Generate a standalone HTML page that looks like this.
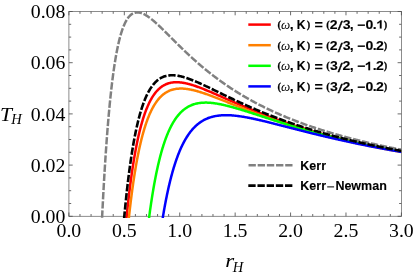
<!DOCTYPE html>
<html><head><meta charset="utf-8"><style>
html,body{margin:0;padding:0;background:#fff;}
svg{display:block}
text{filter:grayscale(1)}
.tk text{font-family:"Liberation Serif",serif;font-size:19.8px;fill:#000}
.lg text{font-family:"Liberation Sans",sans-serif;font-weight:bold;font-size:12px;fill:#000}
.lg text.om{font-family:"Liberation Serif",serif;font-style:italic;font-weight:normal;font-size:13px}
.sb{font-family:"Liberation Sans",sans-serif;font-weight:bold;fill:#000;stroke:#000;stroke-width:0.12px}
.sr{font-family:"Liberation Sans",sans-serif;fill:#000;stroke:#000;stroke-width:0.3px}
.rb{font-family:"Liberation Serif",serif;font-weight:bold;fill:#000;stroke:#000;stroke-width:0.25px}
.ri{font-family:"Liberation Serif",serif;font-style:italic;fill:#000}
.ax{font-family:"Liberation Serif",serif;font-style:italic;fill:#000}
</style></head><body>
<svg width="415" height="273" viewBox="0 0 415 273">
<rect width="415" height="273" fill="#fff"/>
<defs><clipPath id="cp"><rect x="68.9" y="10.5" width="332.5" height="207.5"/></clipPath></defs>
<rect x="68.9" y="11.5" width="332.5" height="204.8" fill="none" stroke="#707070" stroke-width="0.8"/>
<path d="M68.90 216.30 v-3.80 M68.90 11.50 v3.80 M79.98 216.30 v-2.30 M79.98 11.50 v2.30 M91.07 216.30 v-2.30 M91.07 11.50 v2.30 M102.15 216.30 v-2.30 M102.15 11.50 v2.30 M113.23 216.30 v-2.30 M113.23 11.50 v2.30 M124.32 216.30 v-3.80 M124.32 11.50 v3.80 M135.40 216.30 v-2.30 M135.40 11.50 v2.30 M146.48 216.30 v-2.30 M146.48 11.50 v2.30 M157.57 216.30 v-2.30 M157.57 11.50 v2.30 M168.65 216.30 v-2.30 M168.65 11.50 v2.30 M179.73 216.30 v-3.80 M179.73 11.50 v3.80 M190.82 216.30 v-2.30 M190.82 11.50 v2.30 M201.90 216.30 v-2.30 M201.90 11.50 v2.30 M212.98 216.30 v-2.30 M212.98 11.50 v2.30 M224.07 216.30 v-2.30 M224.07 11.50 v2.30 M235.15 216.30 v-3.80 M235.15 11.50 v3.80 M246.23 216.30 v-2.30 M246.23 11.50 v2.30 M257.32 216.30 v-2.30 M257.32 11.50 v2.30 M268.40 216.30 v-2.30 M268.40 11.50 v2.30 M279.48 216.30 v-2.30 M279.48 11.50 v2.30 M290.57 216.30 v-3.80 M290.57 11.50 v3.80 M301.65 216.30 v-2.30 M301.65 11.50 v2.30 M312.73 216.30 v-2.30 M312.73 11.50 v2.30 M323.82 216.30 v-2.30 M323.82 11.50 v2.30 M334.90 216.30 v-2.30 M334.90 11.50 v2.30 M345.98 216.30 v-3.80 M345.98 11.50 v3.80 M357.07 216.30 v-2.30 M357.07 11.50 v2.30 M368.15 216.30 v-2.30 M368.15 11.50 v2.30 M379.23 216.30 v-2.30 M379.23 11.50 v2.30 M390.32 216.30 v-2.30 M390.32 11.50 v2.30 M401.40 216.30 v-3.80 M401.40 11.50 v3.80 M68.90 216.30 h3.80 M401.40 216.30 h-3.80 M68.90 203.50 h2.30 M401.40 203.50 h-2.30 M68.90 190.70 h2.30 M401.40 190.70 h-2.30 M68.90 177.90 h2.30 M401.40 177.90 h-2.30 M68.90 165.10 h3.80 M401.40 165.10 h-3.80 M68.90 152.30 h2.30 M401.40 152.30 h-2.30 M68.90 139.50 h2.30 M401.40 139.50 h-2.30 M68.90 126.70 h2.30 M401.40 126.70 h-2.30 M68.90 113.90 h3.80 M401.40 113.90 h-3.80 M68.90 101.10 h2.30 M401.40 101.10 h-2.30 M68.90 88.30 h2.30 M401.40 88.30 h-2.30 M68.90 75.50 h2.30 M401.40 75.50 h-2.30 M68.90 62.70 h3.80 M401.40 62.70 h-3.80 M68.90 49.90 h2.30 M401.40 49.90 h-2.30 M68.90 37.10 h2.30 M401.40 37.10 h-2.30 M68.90 24.30 h2.30 M401.40 24.30 h-2.30 M68.90 11.50 h3.80 M401.40 11.50 h-3.80" stroke="#505050" stroke-width="0.85" fill="none"/>
<g clip-path="url(#cp)" fill="none" stroke-linejoin="round">
<path d="M126.48 218.09 L126.55 217.35 L126.66 216.26 L126.77 215.19 L126.88 214.12 L126.99 213.06 L127.10 212.01 L127.21 210.97 L127.32 209.93 L127.43 208.91 L127.54 207.89 L127.64 206.87 L127.75 205.87 L127.86 204.87 L127.97 203.88 L128.08 202.90 L128.19 201.92 L128.30 200.96 L128.41 200.00 L128.52 199.04 L128.63 198.10 L128.73 197.16 L128.84 196.22 L128.95 195.30 L129.06 194.38 L129.17 193.47 L129.28 192.56 L129.39 191.66 L129.50 190.77 L129.61 189.89 L129.72 189.01 L129.83 188.14 L129.93 187.27 L130.04 186.41 L130.15 185.56 L130.26 184.71 L130.37 183.87 L130.48 183.04 L130.59 182.21 L130.70 181.39 L130.81 180.58 L130.92 179.77 L131.02 178.96 L131.13 178.17 L131.24 177.37 L131.35 176.59 L131.46 175.81 L131.57 175.03 L131.68 174.27 L131.79 173.50 L131.90 172.75 L132.01 172.00 L132.11 171.25 L132.22 170.51 L132.33 169.78 L132.44 169.05 L132.55 168.32 L132.66 167.60 L132.77 166.89 L132.88 166.18 L132.99 165.48 L133.10 164.78 L133.20 164.09 L133.42 162.72 L133.64 161.37 L133.86 160.04 L134.08 158.73 L134.29 157.44 L134.51 156.17 L134.73 154.92 L134.95 153.69 L135.17 152.47 L135.39 151.28 L135.60 150.10 L135.82 148.93 L136.04 147.79 L136.26 146.66 L136.48 145.55 L136.69 144.46 L136.91 143.38 L137.13 142.32 L137.35 141.27 L137.57 140.24 L137.78 139.22 L138.00 138.22 L138.22 137.24 L138.44 136.27 L138.66 135.31 L138.87 134.37 L139.09 133.44 L139.31 132.52 L139.53 131.62 L139.75 130.74 L139.96 129.86 L140.18 129.00 L140.40 128.16 L140.62 127.32 L140.84 126.50 L141.05 125.69 L141.27 124.89 L141.49 124.11 L141.71 123.33 L141.93 122.57 L142.14 121.82 L142.36 121.08 L142.58 120.35 L142.80 119.64 L143.02 118.93 L143.23 118.23 L143.45 117.55 L143.67 116.88 L143.89 116.21 L144.11 115.56 L144.33 114.92 L144.54 114.28 L144.76 113.66 L144.98 113.04 L145.20 112.44 L145.42 111.85 L145.63 111.26 L145.96 110.40 L146.29 109.56 L146.61 108.73 L146.94 107.93 L147.27 107.15 L147.60 106.38 L147.92 105.64 L148.25 104.91 L148.58 104.19 L148.90 103.50 L149.23 102.82 L149.56 102.16 L149.89 101.51 L150.21 100.88 L150.54 100.27 L150.87 99.67 L151.19 99.09 L151.52 98.52 L151.85 97.96 L152.17 97.42 L152.50 96.89 L152.83 96.38 L153.16 95.88 L153.48 95.39 L153.81 94.91 L154.25 94.30 L154.68 93.70 L155.12 93.13 L155.55 92.58 L155.99 92.04 L156.43 91.53 L156.86 91.04 L157.30 90.56 L157.73 90.10 L158.17 89.66 L158.61 89.24 L159.04 88.83 L159.48 88.44 L159.92 88.06 L160.46 87.61 L161.01 87.19 L161.55 86.78 L162.10 86.40 L162.64 86.04 L163.19 85.70 L163.73 85.38 L164.28 85.08 L164.82 84.79 L165.37 84.53 L166.02 84.23 L166.67 83.96 L167.33 83.71 L167.98 83.48 L168.64 83.28 L169.29 83.09 L169.95 82.93 L170.60 82.78 L171.36 82.63 L172.13 82.51 L172.89 82.40 L173.65 82.32 L174.42 82.26 L175.18 82.23 L176.05 82.20 L176.92 82.21 L177.79 82.23 L178.56 82.27 L179.32 82.32 L180.08 82.39 L180.85 82.47 L181.61 82.57 L182.37 82.68 L183.14 82.80 L183.90 82.93 L184.66 83.08 L185.43 83.23 L186.19 83.40 L186.84 83.55 L187.50 83.71 L188.15 83.87 L188.81 84.04 L189.46 84.22 L190.11 84.40 L190.77 84.58 L191.42 84.78 L192.08 84.97 L192.73 85.18 L193.39 85.39 L194.04 85.60 L194.69 85.81 L195.35 86.03 L196.00 86.26 L196.66 86.49 L197.31 86.72 L197.96 86.95 L198.62 87.19 L199.27 87.44 L199.93 87.68 L200.58 87.93 L201.23 88.18 L201.89 88.43 L202.54 88.69 L203.20 88.95 L203.85 89.21 L204.51 89.47 L205.16 89.73 L205.81 90.00 L206.47 90.27 L207.12 90.54 L207.78 90.81 L208.43 91.08 L209.08 91.36 L209.74 91.64 L210.39 91.91 L211.05 92.19 L211.70 92.47 L212.36 92.75 L213.01 93.03 L213.66 93.32 L214.32 93.60 L214.97 93.88 L215.63 94.17 L216.28 94.45 L216.93 94.74 L217.59 95.03 L218.24 95.31 L218.90 95.60 L219.55 95.89 L220.20 96.18 L220.86 96.47 L221.51 96.75 L222.17 97.04 L222.82 97.33 L223.48 97.62 L224.13 97.91 L224.78 98.20 L225.44 98.49 L226.09 98.78 L226.75 99.07 L227.40 99.35 L228.05 99.64 L228.71 99.93 L229.36 100.22 L230.02 100.51 L230.67 100.80 L231.32 101.08 L231.98 101.37 L232.63 101.66 L233.29 101.94 L233.94 102.23 L234.60 102.51 L235.25 102.80 L235.90 103.08 L236.56 103.37 L237.21 103.65 L237.87 103.94 L238.52 104.22 L239.17 104.50 L239.83 104.78 L240.48 105.06 L241.14 105.34 L241.79 105.62 L242.45 105.90 L243.10 106.18 L243.75 106.46 L244.41 106.73 L245.06 107.01 L245.72 107.29 L246.37 107.56 L247.02 107.83 L247.68 108.11 L248.33 108.38 L248.99 108.65 L249.64 108.92 L250.29 109.19 L250.95 109.46 L251.60 109.73 L252.26 110.00 L252.91 110.27 L253.57 110.53 L254.22 110.80 L254.87 111.07 L255.53 111.33 L256.18 111.59 L256.84 111.86 L257.49 112.12 L258.14 112.38 L258.80 112.64 L259.45 112.90 L260.11 113.15 L260.76 113.41 L261.42 113.67 L262.07 113.92 L262.72 114.18 L263.38 114.43 L264.03 114.69 L264.69 114.94 L265.34 115.19 L265.99 115.44 L266.65 115.69 L267.30 115.94 L267.96 116.19 L268.61 116.43 L269.26 116.68 L269.92 116.93 L270.57 117.17 L271.23 117.41 L271.88 117.66 L272.54 117.90 L273.19 118.14 L273.84 118.38 L274.50 118.62 L275.15 118.86 L275.81 119.10 L276.46 119.33 L277.11 119.57 L277.77 119.80 L278.42 120.04 L279.08 120.27 L279.73 120.50 L280.39 120.73 L281.04 120.96 L281.69 121.19 L282.35 121.42 L283.00 121.65 L283.66 121.88 L284.31 122.10 L284.96 122.33 L285.62 122.55 L286.27 122.78 L286.93 123.00 L287.58 123.22 L288.23 123.44 L288.89 123.66 L289.54 123.88 L290.20 124.10 L290.85 124.32 L291.51 124.54 L292.16 124.75 L292.81 124.97 L293.47 125.18 L294.12 125.40 L294.78 125.61 L295.43 125.82 L296.08 126.03 L296.74 126.24 L297.39 126.45 L298.05 126.66 L298.70 126.87 L299.35 127.08 L300.01 127.28 L300.66 127.49 L301.32 127.70 L301.97 127.90 L302.63 128.10 L303.28 128.31 L303.93 128.51 L304.59 128.71 L305.24 128.91 L305.90 129.11 L306.55 129.31 L307.20 129.50 L307.86 129.70 L308.51 129.90 L309.17 130.09 L309.82 130.29 L310.48 130.48 L311.13 130.68 L311.78 130.87 L312.44 131.06 L313.09 131.25 L313.75 131.44 L314.40 131.63 L315.05 131.82 L315.71 132.01 L316.36 132.20 L317.02 132.38 L317.67 132.57 L318.32 132.75 L318.98 132.94 L319.63 133.12 L320.29 133.30 L320.94 133.49 L321.60 133.67 L322.25 133.85 L322.90 134.03 L323.56 134.21 L324.21 134.39 L324.87 134.57 L325.52 134.74 L326.17 134.92 L326.83 135.10 L327.48 135.27 L328.14 135.45 L328.79 135.62 L329.45 135.80 L330.10 135.97 L330.75 136.14 L331.41 136.31 L332.06 136.48 L332.72 136.65 L333.37 136.82 L334.02 136.99 L334.68 137.16 L335.33 137.33 L335.99 137.50 L336.64 137.66 L337.29 137.83 L337.95 137.99 L338.60 138.16 L339.26 138.32 L339.91 138.48 L340.57 138.65 L341.22 138.81 L341.87 138.97 L342.53 139.13 L343.18 139.29 L343.84 139.45 L344.49 139.61 L345.14 139.77 L345.80 139.93 L346.45 140.08 L347.11 140.24 L347.76 140.40 L348.42 140.55 L349.07 140.71 L349.72 140.86 L350.38 141.02 L351.03 141.17 L351.69 141.32 L352.34 141.47 L352.99 141.63 L353.65 141.78 L354.30 141.93 L354.96 142.08 L355.61 142.23 L356.26 142.38 L356.92 142.52 L357.57 142.67 L358.23 142.82 L358.88 142.96 L359.54 143.11 L360.30 143.28 L361.06 143.45 L361.82 143.62 L362.59 143.79 L363.35 143.95 L364.11 144.12 L364.88 144.28 L365.64 144.45 L366.40 144.61 L367.17 144.78 L367.93 144.94 L368.69 145.10 L369.46 145.26 L370.22 145.42 L370.98 145.58 L371.75 145.74 L372.51 145.90 L373.27 146.06 L374.04 146.22 L374.80 146.37 L375.56 146.53 L376.32 146.68 L377.09 146.84 L377.85 146.99 L378.61 147.15 L379.38 147.30 L380.14 147.45 L380.90 147.60 L381.67 147.75 L382.43 147.90 L383.19 148.05 L383.96 148.20 L384.72 148.35 L385.48 148.50 L386.25 148.65 L387.01 148.79 L387.77 148.94 L388.54 149.09 L389.30 149.23 L390.06 149.37 L390.82 149.52 L391.59 149.66 L392.35 149.80 L393.11 149.95 L393.88 150.09 L394.64 150.23 L395.40 150.37 L396.17 150.51 L396.93 150.65 L397.69 150.79 L398.46 150.92 L399.22 151.06 L399.98 151.20 L400.75 151.34 L401.40 151.45" stroke="#ff0000" stroke-width="2.5"/>
<path d="M128.84 218.09 L128.95 217.01 L129.06 216.02 L129.17 215.04 L129.28 214.06 L129.39 213.09 L129.50 212.12 L129.61 211.17 L129.72 210.22 L129.83 209.28 L129.93 208.34 L130.04 207.41 L130.15 206.49 L130.26 205.57 L130.37 204.66 L130.48 203.76 L130.59 202.86 L130.70 201.97 L130.81 201.09 L130.92 200.21 L131.02 199.34 L131.13 198.47 L131.24 197.62 L131.35 196.76 L131.46 195.92 L131.57 195.08 L131.68 194.24 L131.79 193.42 L131.90 192.59 L132.01 191.78 L132.11 190.97 L132.22 190.16 L132.33 189.36 L132.44 188.57 L132.55 187.78 L132.66 187.00 L132.77 186.22 L132.88 185.45 L132.99 184.69 L133.10 183.93 L133.20 183.17 L133.31 182.43 L133.42 181.68 L133.53 180.94 L133.64 180.21 L133.75 179.48 L133.86 178.76 L133.97 178.04 L134.08 177.33 L134.19 176.63 L134.29 175.92 L134.40 175.23 L134.51 174.53 L134.73 173.17 L134.95 171.82 L135.17 170.49 L135.39 169.17 L135.60 167.88 L135.82 166.61 L136.04 165.35 L136.26 164.11 L136.48 162.89 L136.69 161.69 L136.91 160.51 L137.13 159.34 L137.35 158.18 L137.57 157.05 L137.78 155.93 L138.00 154.83 L138.22 153.74 L138.44 152.67 L138.66 151.61 L138.87 150.57 L139.09 149.54 L139.31 148.53 L139.53 147.53 L139.75 146.55 L139.96 145.58 L140.18 144.62 L140.40 143.68 L140.62 142.75 L140.84 141.84 L141.05 140.94 L141.27 140.05 L141.49 139.17 L141.71 138.31 L141.93 137.46 L142.14 136.62 L142.36 135.79 L142.58 134.98 L142.80 134.18 L143.02 133.39 L143.23 132.61 L143.45 131.84 L143.67 131.08 L143.89 130.33 L144.11 129.60 L144.33 128.87 L144.54 128.16 L144.76 127.46 L144.98 126.76 L145.20 126.08 L145.42 125.41 L145.63 124.74 L145.85 124.09 L146.07 123.44 L146.29 122.81 L146.51 122.18 L146.72 121.57 L146.94 120.96 L147.16 120.36 L147.38 119.77 L147.70 118.91 L148.03 118.06 L148.36 117.23 L148.69 116.42 L149.01 115.63 L149.34 114.85 L149.67 114.09 L149.99 113.35 L150.32 112.63 L150.65 111.92 L150.98 111.23 L151.30 110.56 L151.63 109.90 L151.96 109.25 L152.28 108.62 L152.61 108.01 L152.94 107.41 L153.26 106.82 L153.59 106.25 L153.92 105.69 L154.25 105.14 L154.57 104.61 L154.90 104.09 L155.23 103.58 L155.55 103.09 L155.88 102.60 L156.32 101.98 L156.75 101.37 L157.19 100.79 L157.63 100.22 L158.06 99.67 L158.50 99.14 L158.93 98.63 L159.37 98.14 L159.81 97.66 L160.24 97.20 L160.68 96.76 L161.11 96.33 L161.55 95.92 L161.99 95.52 L162.42 95.14 L162.86 94.77 L163.40 94.33 L163.95 93.91 L164.49 93.52 L165.04 93.14 L165.58 92.78 L166.13 92.44 L166.67 92.11 L167.22 91.81 L167.76 91.52 L168.31 91.25 L168.86 90.99 L169.51 90.71 L170.16 90.44 L170.82 90.20 L171.47 89.97 L172.13 89.77 L172.78 89.58 L173.43 89.41 L174.09 89.26 L174.85 89.11 L175.61 88.97 L176.38 88.86 L177.14 88.77 L177.90 88.69 L178.67 88.64 L179.43 88.60 L180.30 88.57 L181.17 88.57 L182.05 88.59 L182.92 88.62 L183.68 88.67 L184.45 88.73 L185.21 88.80 L185.97 88.88 L186.73 88.98 L187.50 89.08 L188.26 89.20 L189.02 89.32 L189.79 89.46 L190.55 89.61 L191.31 89.76 L192.08 89.92 L192.84 90.09 L193.49 90.24 L194.15 90.40 L194.80 90.56 L195.46 90.73 L196.11 90.91 L196.76 91.08 L197.42 91.26 L198.07 91.45 L198.73 91.64 L199.38 91.83 L200.04 92.03 L200.69 92.23 L201.34 92.44 L202.00 92.64 L202.65 92.86 L203.31 93.07 L203.96 93.29 L204.61 93.51 L205.27 93.73 L205.92 93.95 L206.58 94.18 L207.23 94.41 L207.89 94.64 L208.54 94.88 L209.19 95.11 L209.85 95.35 L210.50 95.59 L211.16 95.83 L211.81 96.08 L212.46 96.32 L213.12 96.57 L213.77 96.82 L214.43 97.06 L215.08 97.31 L215.73 97.57 L216.39 97.82 L217.04 98.07 L217.70 98.33 L218.35 98.58 L219.01 98.84 L219.66 99.10 L220.31 99.35 L220.97 99.61 L221.62 99.87 L222.28 100.13 L222.93 100.39 L223.58 100.65 L224.24 100.91 L224.89 101.17 L225.55 101.43 L226.20 101.70 L226.86 101.96 L227.51 102.22 L228.16 102.48 L228.82 102.75 L229.47 103.01 L230.13 103.27 L230.78 103.54 L231.43 103.80 L232.09 104.06 L232.74 104.32 L233.40 104.59 L234.05 104.85 L234.70 105.11 L235.36 105.38 L236.01 105.64 L236.67 105.90 L237.32 106.16 L237.98 106.42 L238.63 106.68 L239.28 106.94 L239.94 107.21 L240.59 107.47 L241.25 107.73 L241.90 107.99 L242.55 108.24 L243.21 108.50 L243.86 108.76 L244.52 109.02 L245.17 109.28 L245.82 109.53 L246.48 109.79 L247.13 110.05 L247.79 110.30 L248.44 110.56 L249.10 110.81 L249.75 111.06 L250.40 111.32 L251.06 111.57 L251.71 111.82 L252.37 112.07 L253.02 112.32 L253.67 112.57 L254.33 112.82 L254.98 113.07 L255.64 113.32 L256.29 113.57 L256.95 113.82 L257.60 114.06 L258.25 114.31 L258.91 114.55 L259.56 114.80 L260.22 115.04 L260.87 115.29 L261.52 115.53 L262.18 115.77 L262.83 116.01 L263.49 116.25 L264.14 116.49 L264.79 116.73 L265.45 116.97 L266.10 117.20 L266.76 117.44 L267.41 117.68 L268.07 117.91 L268.72 118.15 L269.37 118.38 L270.03 118.61 L270.68 118.84 L271.34 119.08 L271.99 119.31 L272.64 119.54 L273.30 119.77 L273.95 119.99 L274.61 120.22 L275.26 120.45 L275.92 120.68 L276.57 120.90 L277.22 121.13 L277.88 121.35 L278.53 121.57 L279.19 121.80 L279.84 122.02 L280.49 122.24 L281.15 122.46 L281.80 122.68 L282.46 122.90 L283.11 123.11 L283.76 123.33 L284.42 123.55 L285.07 123.76 L285.73 123.98 L286.38 124.19 L287.04 124.41 L287.69 124.62 L288.34 124.83 L289.00 125.04 L289.65 125.25 L290.31 125.46 L290.96 125.67 L291.61 125.88 L292.27 126.08 L292.92 126.29 L293.58 126.50 L294.23 126.70 L294.89 126.91 L295.54 127.11 L296.19 127.31 L296.85 127.52 L297.50 127.72 L298.16 127.92 L298.81 128.12 L299.46 128.32 L300.12 128.52 L300.77 128.71 L301.43 128.91 L302.08 129.11 L302.73 129.30 L303.39 129.50 L304.04 129.69 L304.70 129.89 L305.35 130.08 L306.01 130.27 L306.66 130.46 L307.31 130.65 L307.97 130.84 L308.62 131.03 L309.28 131.22 L309.93 131.41 L310.58 131.59 L311.24 131.78 L311.89 131.97 L312.55 132.15 L313.20 132.34 L313.85 132.52 L314.51 132.70 L315.16 132.89 L315.82 133.07 L316.47 133.25 L317.13 133.43 L317.78 133.61 L318.43 133.79 L319.09 133.97 L319.74 134.14 L320.40 134.32 L321.05 134.50 L321.70 134.67 L322.36 134.85 L323.01 135.02 L323.67 135.20 L324.32 135.37 L324.98 135.54 L325.63 135.71 L326.28 135.89 L326.94 136.06 L327.59 136.23 L328.25 136.40 L328.90 136.57 L329.55 136.73 L330.21 136.90 L330.86 137.07 L331.52 137.23 L332.17 137.40 L332.82 137.56 L333.48 137.73 L334.13 137.89 L334.79 138.06 L335.44 138.22 L336.10 138.38 L336.75 138.54 L337.40 138.70 L338.06 138.86 L338.71 139.02 L339.37 139.18 L340.02 139.34 L340.67 139.50 L341.33 139.66 L341.98 139.81 L342.64 139.97 L343.29 140.13 L343.95 140.28 L344.60 140.44 L345.25 140.59 L345.91 140.74 L346.56 140.90 L347.22 141.05 L347.87 141.20 L348.52 141.35 L349.18 141.50 L349.83 141.65 L350.49 141.80 L351.14 141.95 L351.79 142.10 L352.45 142.25 L353.10 142.40 L353.76 142.54 L354.41 142.69 L355.07 142.83 L355.83 143.00 L356.59 143.17 L357.35 143.34 L358.12 143.51 L358.88 143.68 L359.64 143.84 L360.41 144.01 L361.17 144.17 L361.93 144.34 L362.70 144.50 L363.46 144.66 L364.22 144.82 L364.99 144.98 L365.75 145.15 L366.51 145.31 L367.28 145.46 L368.04 145.62 L368.80 145.78 L369.57 145.94 L370.33 146.10 L371.09 146.25 L371.85 146.41 L372.62 146.56 L373.38 146.72 L374.14 146.87 L374.91 147.02 L375.67 147.18 L376.43 147.33 L377.20 147.48 L377.96 147.63 L378.72 147.78 L379.49 147.93 L380.25 148.08 L381.01 148.22 L381.78 148.37 L382.54 148.52 L383.30 148.66 L384.07 148.81 L384.83 148.96 L385.59 149.10 L386.35 149.24 L387.12 149.39 L387.88 149.53 L388.64 149.67 L389.41 149.81 L390.17 149.96 L390.93 150.10 L391.70 150.24 L392.46 150.38 L393.22 150.51 L393.99 150.65 L394.75 150.79 L395.51 150.93 L396.28 151.07 L397.04 151.20 L397.80 151.34 L398.57 151.47 L399.33 151.61 L400.09 151.74 L400.85 151.87 L401.40 151.97" stroke="#ff8000" stroke-width="2.5"/>
<path d="M149.03 218.09 L149.23 216.58 L149.34 215.76 L149.45 214.95 L149.56 214.14 L149.67 213.33 L149.78 212.53 L149.89 211.74 L149.99 210.95 L150.10 210.17 L150.21 209.39 L150.32 208.62 L150.43 207.86 L150.54 207.10 L150.65 206.34 L150.76 205.59 L150.87 204.84 L150.98 204.10 L151.08 203.37 L151.19 202.63 L151.30 201.91 L151.41 201.19 L151.52 200.47 L151.63 199.76 L151.74 199.05 L151.85 198.35 L151.96 197.66 L152.07 196.96 L152.28 195.59 L152.50 194.24 L152.72 192.91 L152.94 191.59 L153.16 190.29 L153.37 189.01 L153.59 187.75 L153.81 186.50 L154.03 185.27 L154.25 184.06 L154.46 182.86 L154.68 181.68 L154.90 180.51 L155.12 179.36 L155.34 178.23 L155.55 177.11 L155.77 176.01 L155.99 174.92 L156.21 173.84 L156.43 172.78 L156.64 171.74 L156.86 170.70 L157.08 169.68 L157.30 168.68 L157.52 167.69 L157.73 166.71 L157.95 165.74 L158.17 164.79 L158.39 163.85 L158.61 162.93 L158.83 162.01 L159.04 161.11 L159.26 160.22 L159.48 159.34 L159.70 158.47 L159.92 157.62 L160.13 156.77 L160.35 155.94 L160.57 155.12 L160.79 154.31 L161.01 153.51 L161.22 152.72 L161.44 151.94 L161.66 151.18 L161.88 150.42 L162.10 149.67 L162.31 148.93 L162.53 148.21 L162.75 147.49 L162.97 146.78 L163.19 146.08 L163.40 145.39 L163.62 144.71 L163.84 144.04 L164.06 143.38 L164.28 142.73 L164.49 142.08 L164.71 141.45 L164.93 140.82 L165.15 140.20 L165.37 139.59 L165.58 138.99 L165.80 138.40 L166.02 137.81 L166.35 136.95 L166.67 136.10 L167.00 135.27 L167.33 134.46 L167.66 133.67 L167.98 132.89 L168.31 132.12 L168.64 131.38 L168.96 130.64 L169.29 129.93 L169.62 129.22 L169.95 128.54 L170.27 127.86 L170.60 127.20 L170.93 126.56 L171.25 125.93 L171.58 125.31 L171.91 124.70 L172.23 124.11 L172.56 123.52 L172.89 122.96 L173.22 122.40 L173.54 121.85 L173.87 121.32 L174.20 120.80 L174.52 120.29 L174.85 119.79 L175.18 119.30 L175.51 118.82 L175.94 118.20 L176.38 117.59 L176.81 117.01 L177.25 116.44 L177.69 115.89 L178.12 115.35 L178.56 114.83 L178.99 114.33 L179.43 113.84 L179.87 113.36 L180.30 112.90 L180.74 112.46 L181.17 112.03 L181.61 111.61 L182.05 111.20 L182.48 110.81 L182.92 110.43 L183.36 110.07 L183.90 109.62 L184.45 109.20 L184.99 108.79 L185.54 108.41 L186.08 108.03 L186.63 107.68 L187.17 107.34 L187.72 107.01 L188.26 106.71 L188.81 106.41 L189.35 106.13 L189.90 105.86 L190.55 105.56 L191.20 105.27 L191.86 105.01 L192.51 104.76 L193.17 104.52 L193.82 104.31 L194.48 104.10 L195.13 103.92 L195.78 103.74 L196.44 103.59 L197.20 103.42 L197.96 103.27 L198.73 103.14 L199.49 103.02 L200.25 102.92 L201.02 102.83 L201.78 102.76 L202.54 102.71 L203.31 102.66 L204.18 102.63 L205.05 102.61 L205.92 102.61 L206.79 102.62 L207.67 102.64 L208.54 102.68 L209.30 102.73 L210.07 102.78 L210.83 102.85 L211.59 102.92 L212.36 103.00 L213.12 103.09 L213.88 103.18 L214.64 103.29 L215.41 103.40 L216.17 103.51 L216.93 103.64 L217.70 103.77 L218.46 103.90 L219.22 104.04 L219.99 104.19 L220.75 104.34 L221.51 104.50 L222.28 104.66 L223.04 104.83 L223.69 104.98 L224.35 105.13 L225.00 105.28 L225.66 105.43 L226.31 105.59 L226.96 105.75 L227.62 105.92 L228.27 106.08 L228.93 106.25 L229.58 106.42 L230.23 106.60 L230.89 106.77 L231.54 106.95 L232.20 107.13 L232.85 107.31 L233.51 107.49 L234.16 107.68 L234.81 107.86 L235.47 108.05 L236.12 108.24 L236.78 108.43 L237.43 108.62 L238.08 108.82 L238.74 109.01 L239.39 109.21 L240.05 109.41 L240.70 109.60 L241.36 109.80 L242.01 110.00 L242.66 110.20 L243.32 110.41 L243.97 110.61 L244.63 110.81 L245.28 111.02 L245.93 111.22 L246.59 111.43 L247.24 111.64 L247.90 111.84 L248.55 112.05 L249.20 112.26 L249.86 112.47 L250.51 112.68 L251.17 112.89 L251.82 113.10 L252.48 113.31 L253.13 113.52 L253.78 113.73 L254.44 113.94 L255.09 114.15 L255.75 114.36 L256.40 114.57 L257.05 114.78 L257.71 115.00 L258.36 115.21 L259.02 115.42 L259.67 115.63 L260.32 115.84 L260.98 116.06 L261.63 116.27 L262.29 116.48 L262.94 116.69 L263.60 116.90 L264.25 117.12 L264.90 117.33 L265.56 117.54 L266.21 117.75 L266.87 117.96 L267.52 118.17 L268.17 118.38 L268.83 118.59 L269.48 118.80 L270.14 119.01 L270.79 119.22 L271.45 119.43 L272.10 119.64 L272.75 119.85 L273.41 120.06 L274.06 120.27 L274.72 120.48 L275.37 120.68 L276.02 120.89 L276.68 121.10 L277.33 121.31 L277.99 121.51 L278.64 121.72 L279.29 121.92 L279.95 122.13 L280.60 122.33 L281.26 122.54 L281.91 122.74 L282.57 122.95 L283.22 123.15 L283.87 123.35 L284.53 123.55 L285.18 123.76 L285.84 123.96 L286.49 124.16 L287.14 124.36 L287.80 124.56 L288.45 124.76 L289.11 124.96 L289.76 125.15 L290.42 125.35 L291.07 125.55 L291.72 125.75 L292.38 125.94 L293.03 126.14 L293.69 126.34 L294.34 126.53 L294.99 126.73 L295.65 126.92 L296.30 127.11 L296.96 127.31 L297.61 127.50 L298.26 127.69 L298.92 127.88 L299.57 128.07 L300.23 128.26 L300.88 128.45 L301.54 128.64 L302.19 128.83 L302.84 129.02 L303.50 129.21 L304.15 129.39 L304.81 129.58 L305.46 129.76 L306.11 129.95 L306.77 130.13 L307.42 130.32 L308.08 130.50 L308.73 130.69 L309.39 130.87 L310.04 131.05 L310.69 131.23 L311.35 131.41 L312.00 131.59 L312.66 131.77 L313.31 131.95 L313.96 132.13 L314.62 132.31 L315.27 132.49 L315.93 132.66 L316.58 132.84 L317.23 133.02 L317.89 133.19 L318.54 133.37 L319.20 133.54 L319.85 133.71 L320.51 133.89 L321.16 134.06 L321.81 134.23 L322.47 134.40 L323.12 134.57 L323.78 134.75 L324.43 134.92 L325.08 135.08 L325.74 135.25 L326.39 135.42 L327.05 135.59 L327.70 135.76 L328.35 135.92 L329.01 136.09 L329.66 136.25 L330.32 136.42 L330.97 136.58 L331.63 136.75 L332.28 136.91 L332.93 137.07 L333.59 137.24 L334.24 137.40 L334.90 137.56 L335.55 137.72 L336.20 137.88 L336.86 138.04 L337.51 138.20 L338.17 138.36 L338.82 138.51 L339.48 138.67 L340.13 138.83 L340.78 138.99 L341.44 139.14 L342.09 139.30 L342.75 139.45 L343.40 139.61 L344.05 139.76 L344.71 139.91 L345.36 140.07 L346.02 140.22 L346.67 140.37 L347.32 140.52 L347.98 140.67 L348.63 140.82 L349.29 140.97 L349.94 141.12 L350.60 141.27 L351.25 141.42 L351.90 141.57 L352.56 141.71 L353.21 141.86 L353.87 142.01 L354.63 142.18 L355.39 142.35 L356.16 142.52 L356.92 142.68 L357.68 142.85 L358.45 143.02 L359.21 143.18 L359.97 143.35 L360.73 143.51 L361.50 143.68 L362.26 143.84 L363.02 144.00 L363.79 144.17 L364.55 144.33 L365.31 144.49 L366.08 144.65 L366.84 144.81 L367.60 144.97 L368.37 145.13 L369.13 145.28 L369.89 145.44 L370.66 145.60 L371.42 145.75 L372.18 145.91 L372.95 146.07 L373.71 146.22 L374.47 146.37 L375.23 146.53 L376.00 146.68 L376.76 146.83 L377.52 146.98 L378.29 147.13 L379.05 147.28 L379.81 147.43 L380.58 147.58 L381.34 147.73 L382.10 147.88 L382.87 148.02 L383.63 148.17 L384.39 148.32 L385.16 148.46 L385.92 148.61 L386.68 148.75 L387.45 148.90 L388.21 149.04 L388.97 149.18 L389.73 149.32 L390.50 149.47 L391.26 149.61 L392.02 149.75 L392.79 149.89 L393.55 150.03 L394.31 150.17 L395.08 150.30 L395.84 150.44 L396.60 150.58 L397.37 150.72 L398.13 150.85 L398.89 150.99 L399.66 151.12 L400.42 151.26 L401.18 151.39 L401.40 151.43" stroke="#00ff00" stroke-width="2.5"/>
<path d="M162.72 218.09 L162.86 217.24 L163.08 215.92 L163.29 214.63 L163.51 213.34 L163.73 212.08 L163.95 210.82 L164.17 209.59 L164.39 208.37 L164.60 207.16 L164.82 205.97 L165.04 204.79 L165.26 203.63 L165.48 202.48 L165.69 201.34 L165.91 200.22 L166.13 199.11 L166.35 198.02 L166.57 196.94 L166.78 195.87 L167.00 194.81 L167.22 193.77 L167.44 192.74 L167.66 191.72 L167.87 190.72 L168.09 189.73 L168.31 188.74 L168.53 187.77 L168.75 186.82 L168.96 185.87 L169.18 184.94 L169.40 184.01 L169.62 183.10 L169.84 182.20 L170.05 181.31 L170.27 180.43 L170.49 179.56 L170.71 178.70 L170.93 177.85 L171.14 177.01 L171.36 176.18 L171.58 175.36 L171.80 174.56 L172.02 173.76 L172.23 172.97 L172.45 172.19 L172.67 171.42 L172.89 170.66 L173.11 169.90 L173.33 169.16 L173.54 168.43 L173.76 167.70 L173.98 166.98 L174.20 166.28 L174.42 165.58 L174.63 164.88 L174.85 164.20 L175.07 163.53 L175.29 162.86 L175.51 162.20 L175.72 161.55 L175.94 160.91 L176.16 160.27 L176.38 159.64 L176.60 159.02 L176.81 158.41 L177.03 157.81 L177.25 157.21 L177.47 156.62 L177.69 156.03 L178.01 155.17 L178.34 154.33 L178.67 153.49 L178.99 152.68 L179.32 151.88 L179.65 151.09 L179.98 150.32 L180.30 149.56 L180.63 148.81 L180.96 148.08 L181.28 147.36 L181.61 146.65 L181.94 145.96 L182.26 145.28 L182.59 144.61 L182.92 143.96 L183.25 143.32 L183.57 142.68 L183.90 142.06 L184.23 141.46 L184.55 140.86 L184.88 140.27 L185.21 139.70 L185.54 139.13 L185.86 138.58 L186.19 138.03 L186.52 137.50 L186.84 136.97 L187.17 136.46 L187.50 135.95 L187.83 135.46 L188.15 134.97 L188.48 134.50 L188.92 133.87 L189.35 133.27 L189.79 132.68 L190.22 132.10 L190.66 131.54 L191.10 130.99 L191.53 130.46 L191.97 129.94 L192.40 129.44 L192.84 128.94 L193.28 128.46 L193.71 128.00 L194.15 127.54 L194.58 127.10 L195.02 126.67 L195.46 126.25 L195.89 125.84 L196.33 125.44 L196.76 125.06 L197.20 124.68 L197.64 124.32 L198.18 123.87 L198.73 123.45 L199.27 123.03 L199.82 122.64 L200.36 122.25 L200.91 121.88 L201.45 121.53 L202.00 121.19 L202.54 120.86 L203.09 120.54 L203.63 120.23 L204.18 119.94 L204.72 119.66 L205.27 119.39 L205.81 119.13 L206.47 118.83 L207.12 118.55 L207.78 118.28 L208.43 118.03 L209.08 117.79 L209.74 117.56 L210.39 117.35 L211.05 117.14 L211.70 116.95 L212.36 116.78 L213.01 116.61 L213.66 116.45 L214.43 116.28 L215.19 116.13 L215.95 115.99 L216.72 115.86 L217.48 115.74 L218.24 115.64 L219.01 115.55 L219.77 115.47 L220.53 115.40 L221.29 115.34 L222.06 115.29 L222.82 115.25 L223.69 115.21 L224.57 115.19 L225.44 115.18 L226.31 115.18 L227.18 115.19 L228.05 115.21 L228.93 115.24 L229.80 115.28 L230.56 115.32 L231.32 115.37 L232.09 115.42 L232.85 115.48 L233.61 115.55 L234.38 115.62 L235.14 115.70 L235.90 115.78 L236.67 115.87 L237.43 115.96 L238.19 116.06 L238.96 116.16 L239.72 116.26 L240.48 116.37 L241.25 116.49 L242.01 116.61 L242.77 116.73 L243.54 116.85 L244.30 116.98 L245.06 117.11 L245.82 117.25 L246.59 117.39 L247.35 117.53 L248.11 117.67 L248.88 117.82 L249.64 117.97 L250.40 118.12 L251.17 118.28 L251.93 118.43 L252.69 118.59 L253.46 118.75 L254.22 118.92 L254.98 119.08 L255.75 119.25 L256.51 119.42 L257.16 119.57 L257.82 119.71 L258.47 119.86 L259.13 120.01 L259.78 120.16 L260.43 120.31 L261.09 120.47 L261.74 120.62 L262.40 120.78 L263.05 120.93 L263.70 121.09 L264.36 121.24 L265.01 121.40 L265.67 121.56 L266.32 121.72 L266.98 121.88 L267.63 122.04 L268.28 122.20 L268.94 122.36 L269.59 122.53 L270.25 122.69 L270.90 122.85 L271.55 123.02 L272.21 123.18 L272.86 123.35 L273.52 123.51 L274.17 123.68 L274.82 123.84 L275.48 124.01 L276.13 124.18 L276.79 124.34 L277.44 124.51 L278.10 124.68 L278.75 124.85 L279.40 125.01 L280.06 125.18 L280.71 125.35 L281.37 125.52 L282.02 125.69 L282.67 125.85 L283.33 126.02 L283.98 126.19 L284.64 126.36 L285.29 126.53 L285.95 126.70 L286.60 126.87 L287.25 127.03 L287.91 127.20 L288.56 127.37 L289.22 127.54 L289.87 127.71 L290.52 127.88 L291.18 128.05 L291.83 128.22 L292.49 128.38 L293.14 128.55 L293.79 128.72 L294.45 128.89 L295.10 129.06 L295.76 129.22 L296.41 129.39 L297.07 129.56 L297.72 129.73 L298.37 129.89 L299.03 130.06 L299.68 130.23 L300.34 130.39 L300.99 130.56 L301.64 130.73 L302.30 130.89 L302.95 131.06 L303.61 131.22 L304.26 131.39 L304.92 131.55 L305.57 131.72 L306.22 131.88 L306.88 132.05 L307.53 132.21 L308.19 132.37 L308.84 132.54 L309.49 132.70 L310.15 132.86 L310.80 133.02 L311.46 133.19 L312.11 133.35 L312.76 133.51 L313.42 133.67 L314.07 133.83 L314.73 133.99 L315.38 134.15 L316.04 134.31 L316.69 134.47 L317.34 134.63 L318.00 134.79 L318.65 134.95 L319.31 135.11 L319.96 135.26 L320.61 135.42 L321.27 135.58 L321.92 135.74 L322.58 135.89 L323.23 136.05 L323.89 136.20 L324.54 136.36 L325.19 136.51 L325.85 136.67 L326.50 136.82 L327.16 136.98 L327.81 137.13 L328.46 137.28 L329.12 137.44 L329.77 137.59 L330.43 137.74 L331.08 137.89 L331.73 138.04 L332.39 138.19 L333.04 138.34 L333.70 138.49 L334.35 138.64 L335.01 138.79 L335.66 138.94 L336.31 139.09 L336.97 139.24 L337.62 139.39 L338.28 139.53 L338.93 139.68 L339.58 139.83 L340.24 139.97 L341.00 140.14 L341.76 140.31 L342.53 140.48 L343.29 140.65 L344.05 140.82 L344.82 140.98 L345.58 141.15 L346.34 141.32 L347.11 141.48 L347.87 141.65 L348.63 141.81 L349.40 141.98 L350.16 142.14 L350.92 142.30 L351.69 142.47 L352.45 142.63 L353.21 142.79 L353.98 142.95 L354.74 143.11 L355.50 143.27 L356.26 143.43 L357.03 143.59 L357.79 143.75 L358.55 143.90 L359.32 144.06 L360.08 144.22 L360.84 144.37 L361.61 144.53 L362.37 144.68 L363.13 144.84 L363.90 144.99 L364.66 145.14 L365.42 145.30 L366.19 145.45 L366.95 145.60 L367.71 145.75 L368.48 145.90 L369.24 146.05 L370.00 146.20 L370.76 146.35 L371.53 146.50 L372.29 146.65 L373.05 146.80 L373.82 146.94 L374.58 147.09 L375.34 147.24 L376.11 147.38 L376.87 147.53 L377.63 147.67 L378.40 147.82 L379.16 147.96 L379.92 148.10 L380.69 148.25 L381.45 148.39 L382.21 148.53 L382.98 148.67 L383.74 148.81 L384.50 148.95 L385.26 149.09 L386.03 149.23 L386.79 149.37 L387.55 149.51 L388.32 149.64 L389.08 149.78 L389.84 149.92 L390.61 150.05 L391.37 150.19 L392.13 150.32 L392.90 150.46 L393.66 150.59 L394.42 150.73 L395.19 150.86 L395.95 150.99 L396.71 151.13 L397.48 151.26 L398.24 151.39 L399.00 151.52 L399.76 151.65 L400.53 151.78 L401.29 151.91 L401.40 151.93" stroke="#0000ff" stroke-width="2.5"/>
<path d="M102.06 218.09 L102.13 216.64 L102.24 214.42 L102.35 212.22 L102.46 210.05 L102.57 207.89 L102.68 205.76 L102.79 203.65 L102.90 201.56 L103.01 199.48 L103.11 197.43 L103.22 195.40 L103.33 193.39 L103.44 191.40 L103.55 189.43 L103.66 187.48 L103.77 185.54 L103.88 183.63 L103.99 181.73 L104.10 179.86 L104.20 178.00 L104.31 176.16 L104.42 174.33 L104.53 172.53 L104.64 170.74 L104.75 168.97 L104.86 167.22 L104.97 165.49 L105.08 163.77 L105.19 162.07 L105.30 160.38 L105.40 158.72 L105.51 157.07 L105.62 155.43 L105.73 153.81 L105.84 152.21 L105.95 150.62 L106.06 149.05 L106.17 147.49 L106.28 145.95 L106.39 144.43 L106.49 142.92 L106.60 141.42 L106.71 139.94 L106.82 138.48 L106.93 137.02 L107.04 135.59 L107.15 134.16 L107.26 132.75 L107.37 131.36 L107.48 129.98 L107.58 128.61 L107.69 127.26 L107.80 125.92 L107.91 124.59 L108.02 123.28 L108.13 121.97 L108.24 120.69 L108.35 119.41 L108.46 118.15 L108.57 116.90 L108.67 115.66 L108.78 114.44 L108.89 113.22 L109.00 112.02 L109.11 110.83 L109.22 109.66 L109.33 108.49 L109.44 107.34 L109.55 106.20 L109.66 105.07 L109.76 103.95 L109.87 102.84 L109.98 101.74 L110.09 100.66 L110.20 99.58 L110.31 98.52 L110.42 97.47 L110.53 96.42 L110.64 95.39 L110.75 94.37 L110.86 93.36 L110.96 92.36 L111.07 91.37 L111.18 90.39 L111.29 89.42 L111.40 88.46 L111.51 87.50 L111.62 86.56 L111.73 85.63 L111.84 84.71 L111.95 83.80 L112.05 82.89 L112.16 82.00 L112.27 81.11 L112.38 80.24 L112.49 79.37 L112.60 78.51 L112.71 77.66 L112.82 76.82 L112.93 75.99 L113.04 75.17 L113.14 74.35 L113.25 73.55 L113.36 72.75 L113.47 71.96 L113.58 71.18 L113.69 70.41 L113.80 69.64 L113.91 68.88 L114.02 68.13 L114.13 67.39 L114.23 66.66 L114.34 65.93 L114.45 65.22 L114.56 64.50 L114.67 63.80 L114.78 63.11 L115.00 61.74 L115.22 60.40 L115.43 59.08 L115.65 57.80 L115.87 56.54 L116.09 55.31 L116.31 54.11 L116.52 52.93 L116.74 51.78 L116.96 50.65 L117.18 49.55 L117.40 48.47 L117.61 47.41 L117.83 46.38 L118.05 45.37 L118.27 44.39 L118.49 43.42 L118.70 42.48 L118.92 41.56 L119.14 40.66 L119.36 39.78 L119.58 38.92 L119.80 38.08 L120.01 37.26 L120.23 36.46 L120.45 35.67 L120.67 34.91 L120.89 34.16 L121.10 33.43 L121.32 32.72 L121.54 32.03 L121.76 31.35 L121.98 30.69 L122.19 30.05 L122.41 29.42 L122.63 28.81 L122.85 28.21 L123.07 27.63 L123.39 26.78 L123.72 25.97 L124.05 25.19 L124.37 24.44 L124.70 23.72 L125.03 23.02 L125.36 22.36 L125.68 21.73 L126.01 21.12 L126.34 20.54 L126.66 19.98 L126.99 19.45 L127.32 18.94 L127.64 18.46 L128.08 17.85 L128.52 17.28 L128.95 16.75 L129.39 16.26 L129.83 15.80 L130.26 15.38 L130.70 14.98 L131.24 14.54 L131.79 14.14 L132.33 13.79 L132.88 13.49 L133.42 13.22 L134.08 12.96 L134.73 12.74 L135.39 12.58 L136.15 12.46 L136.91 12.40 L137.78 12.40 L138.55 12.46 L139.31 12.57 L140.07 12.73 L140.73 12.90 L141.38 13.10 L142.04 13.34 L142.69 13.60 L143.34 13.89 L143.89 14.15 L144.43 14.42 L144.98 14.71 L145.52 15.02 L146.07 15.34 L146.61 15.67 L147.16 16.02 L147.70 16.38 L148.25 16.75 L148.79 17.14 L149.34 17.53 L149.89 17.93 L150.43 18.35 L150.98 18.77 L151.52 19.20 L152.07 19.64 L152.61 20.09 L153.16 20.54 L153.59 20.91 L154.03 21.28 L154.46 21.66 L154.90 22.04 L155.34 22.42 L155.77 22.81 L156.21 23.20 L156.64 23.60 L157.08 24.00 L157.52 24.40 L157.95 24.80 L158.39 25.20 L158.83 25.61 L159.26 26.02 L159.70 26.44 L160.13 26.85 L160.57 27.27 L161.01 27.69 L161.44 28.11 L161.88 28.53 L162.31 28.95 L162.75 29.38 L163.19 29.80 L163.62 30.23 L164.06 30.66 L164.49 31.09 L164.93 31.52 L165.37 31.95 L165.80 32.38 L166.24 32.81 L166.67 33.25 L167.11 33.68 L167.55 34.12 L167.98 34.55 L168.42 34.99 L168.86 35.42 L169.29 35.86 L169.73 36.29 L170.16 36.73 L170.60 37.17 L171.04 37.60 L171.47 38.04 L171.91 38.47 L172.34 38.91 L172.78 39.34 L173.22 39.78 L173.65 40.21 L174.09 40.65 L174.52 41.08 L174.96 41.52 L175.40 41.95 L175.83 42.38 L176.27 42.81 L176.70 43.24 L177.14 43.68 L177.58 44.11 L178.01 44.54 L178.45 44.96 L178.89 45.39 L179.32 45.82 L179.76 46.25 L180.19 46.67 L180.63 47.10 L181.07 47.52 L181.50 47.95 L181.94 48.37 L182.37 48.79 L182.81 49.21 L183.25 49.63 L183.68 50.05 L184.12 50.47 L184.55 50.88 L184.99 51.30 L185.43 51.71 L185.86 52.13 L186.30 52.54 L186.73 52.95 L187.17 53.36 L187.61 53.77 L188.04 54.18 L188.48 54.58 L188.92 54.99 L189.35 55.39 L189.79 55.80 L190.22 56.20 L190.66 56.60 L191.10 57.00 L191.53 57.40 L191.97 57.80 L192.40 58.19 L192.84 58.59 L193.28 58.98 L193.71 59.37 L194.15 59.76 L194.58 60.15 L195.02 60.54 L195.46 60.93 L195.89 61.32 L196.33 61.70 L196.76 62.09 L197.20 62.47 L197.64 62.85 L198.07 63.23 L198.51 63.61 L198.95 63.98 L199.38 64.36 L199.82 64.74 L200.25 65.11 L200.69 65.48 L201.13 65.85 L201.56 66.22 L202.00 66.59 L202.43 66.96 L202.87 67.32 L203.31 67.69 L203.85 68.14 L204.40 68.59 L204.94 69.04 L205.49 69.49 L206.03 69.93 L206.58 70.38 L207.12 70.82 L207.67 71.26 L208.21 71.70 L208.76 72.13 L209.30 72.57 L209.85 73.00 L210.39 73.43 L210.94 73.85 L211.48 74.28 L212.03 74.70 L212.57 75.12 L213.12 75.54 L213.66 75.96 L214.21 76.38 L214.75 76.79 L215.30 77.20 L215.84 77.61 L216.39 78.02 L216.93 78.43 L217.48 78.83 L218.02 79.23 L218.57 79.63 L219.11 80.03 L219.66 80.43 L220.20 80.82 L220.75 81.21 L221.29 81.61 L221.84 81.99 L222.39 82.38 L222.93 82.77 L223.48 83.15 L224.02 83.53 L224.57 83.91 L225.11 84.29 L225.66 84.67 L226.20 85.04 L226.75 85.41 L227.29 85.78 L227.84 86.15 L228.38 86.52 L228.93 86.88 L229.47 87.25 L230.02 87.61 L230.56 87.97 L231.11 88.33 L231.65 88.69 L232.20 89.04 L232.74 89.39 L233.29 89.75 L233.83 90.10 L234.38 90.44 L234.92 90.79 L235.47 91.14 L236.01 91.48 L236.56 91.82 L237.10 92.16 L237.65 92.50 L238.19 92.84 L238.74 93.17 L239.28 93.51 L239.83 93.84 L240.37 94.17 L240.92 94.50 L241.46 94.82 L242.01 95.15 L242.55 95.48 L243.10 95.80 L243.64 96.12 L244.19 96.44 L244.73 96.76 L245.28 97.07 L245.82 97.39 L246.37 97.70 L246.92 98.02 L247.46 98.33 L248.01 98.64 L248.55 98.94 L249.10 99.25 L249.64 99.56 L250.19 99.86 L250.73 100.16 L251.28 100.46 L251.82 100.76 L252.37 101.06 L252.91 101.36 L253.46 101.65 L254.00 101.95 L254.55 102.24 L255.09 102.53 L255.64 102.82 L256.18 103.11 L256.73 103.39 L257.27 103.68 L257.82 103.97 L258.36 104.25 L258.91 104.53 L259.45 104.81 L260.00 105.09 L260.54 105.37 L261.09 105.65 L261.63 105.92 L262.18 106.20 L262.72 106.47 L263.27 106.74 L263.81 107.01 L264.36 107.28 L264.90 107.55 L265.45 107.82 L265.99 108.08 L266.54 108.35 L267.08 108.61 L267.63 108.87 L268.17 109.13 L268.72 109.39 L269.26 109.65 L269.81 109.91 L270.36 110.17 L270.90 110.42 L271.55 110.73 L272.21 111.03 L272.86 111.33 L273.52 111.63 L274.17 111.93 L274.82 112.23 L275.48 112.52 L276.13 112.82 L276.79 113.11 L277.44 113.40 L278.10 113.69 L278.75 113.98 L279.40 114.26 L280.06 114.55 L280.71 114.83 L281.37 115.11 L282.02 115.39 L282.67 115.67 L283.33 115.95 L283.98 116.22 L284.64 116.50 L285.29 116.77 L285.95 117.04 L286.60 117.31 L287.25 117.58 L287.91 117.85 L288.56 118.12 L289.22 118.38 L289.87 118.64 L290.52 118.91 L291.18 119.17 L291.83 119.43 L292.49 119.69 L293.14 119.94 L293.79 120.20 L294.45 120.45 L295.10 120.71 L295.76 120.96 L296.41 121.21 L297.07 121.46 L297.72 121.71 L298.37 121.95 L299.03 122.20 L299.68 122.44 L300.34 122.69 L300.99 122.93 L301.64 123.17 L302.30 123.41 L302.95 123.65 L303.61 123.89 L304.26 124.12 L304.92 124.36 L305.57 124.59 L306.22 124.82 L306.88 125.06 L307.53 125.29 L308.19 125.52 L308.84 125.74 L309.49 125.97 L310.15 126.20 L310.80 126.42 L311.46 126.65 L312.11 126.87 L312.76 127.09 L313.42 127.31 L314.07 127.53 L314.73 127.75 L315.38 127.97 L316.04 128.19 L316.69 128.40 L317.34 128.62 L318.00 128.83 L318.65 129.04 L319.31 129.26 L319.96 129.47 L320.61 129.68 L321.27 129.89 L321.92 130.09 L322.58 130.30 L323.23 130.51 L323.89 130.71 L324.54 130.92 L325.19 131.12 L325.85 131.32 L326.50 131.52 L327.16 131.72 L327.81 131.92 L328.46 132.12 L329.12 132.32 L329.77 132.52 L330.43 132.71 L331.08 132.91 L331.73 133.10 L332.39 133.29 L333.04 133.49 L333.70 133.68 L334.35 133.87 L335.01 134.06 L335.66 134.25 L336.31 134.44 L336.97 134.62 L337.62 134.81 L338.28 135.00 L338.93 135.18 L339.58 135.37 L340.24 135.55 L340.89 135.73 L341.55 135.91 L342.20 136.09 L342.85 136.28 L343.51 136.45 L344.16 136.63 L344.82 136.81 L345.47 136.99 L346.13 137.16 L346.78 137.34 L347.43 137.51 L348.09 137.69 L348.74 137.86 L349.40 138.04 L350.05 138.21 L350.70 138.38 L351.36 138.55 L352.01 138.72 L352.67 138.89 L353.32 139.06 L353.98 139.22 L354.63 139.39 L355.28 139.56 L355.94 139.72 L356.59 139.89 L357.25 140.05 L357.90 140.21 L358.55 140.38 L359.21 140.54 L359.86 140.70 L360.52 140.86 L361.17 141.02 L361.82 141.18 L362.48 141.34 L363.13 141.50 L363.79 141.65 L364.44 141.81 L365.10 141.97 L365.75 142.12 L366.40 142.28 L367.06 142.43 L367.71 142.59 L368.37 142.74 L369.02 142.89 L369.67 143.04 L370.33 143.20 L370.98 143.35 L371.64 143.50 L372.29 143.65 L372.95 143.79 L373.60 143.94 L374.25 144.09 L374.91 144.24 L375.56 144.38 L376.22 144.53 L376.98 144.70 L377.74 144.87 L378.51 145.04 L379.27 145.20 L380.03 145.37 L380.79 145.53 L381.56 145.70 L382.32 145.86 L383.08 146.03 L383.85 146.19 L384.61 146.35 L385.37 146.51 L386.14 146.67 L386.90 146.83 L387.66 146.99 L388.43 147.15 L389.19 147.31 L389.95 147.47 L390.72 147.62 L391.48 147.78 L392.24 147.93 L393.01 148.09 L393.77 148.24 L394.53 148.39 L395.29 148.54 L396.06 148.70 L396.82 148.85 L397.58 149.00 L398.35 149.15 L399.11 149.30 L399.87 149.44 L400.64 149.59 L401.40 149.74 L401.40 149.74" stroke="#808080" stroke-width="2.5" stroke-dasharray="7.34 1.84" stroke-dashoffset="-0.4"/>
<path d="M124.15 218.09 L124.26 216.86 L124.37 215.68 L124.48 214.51 L124.59 213.35 L124.70 212.20 L124.81 211.06 L124.92 209.92 L125.03 208.80 L125.14 207.68 L125.25 206.58 L125.36 205.48 L125.46 204.39 L125.57 203.30 L125.68 202.23 L125.79 201.16 L125.90 200.11 L126.01 199.06 L126.12 198.02 L126.23 196.98 L126.34 195.96 L126.45 194.94 L126.55 193.93 L126.66 192.93 L126.77 191.93 L126.88 190.95 L126.99 189.97 L127.10 189.00 L127.21 188.03 L127.32 187.08 L127.43 186.13 L127.54 185.19 L127.64 184.25 L127.75 183.32 L127.86 182.40 L127.97 181.49 L128.08 180.59 L128.19 179.69 L128.30 178.79 L128.41 177.91 L128.52 177.03 L128.63 176.16 L128.73 175.29 L128.84 174.43 L128.95 173.58 L129.06 172.74 L129.17 171.90 L129.28 171.07 L129.39 170.24 L129.50 169.42 L129.61 168.61 L129.72 167.80 L129.83 167.00 L129.93 166.20 L130.04 165.42 L130.15 164.63 L130.26 163.86 L130.37 163.09 L130.48 162.32 L130.59 161.56 L130.70 160.81 L130.81 160.06 L130.92 159.32 L131.02 158.59 L131.13 157.86 L131.24 157.13 L131.35 156.41 L131.46 155.70 L131.57 154.99 L131.68 154.29 L131.79 153.59 L131.90 152.90 L132.11 151.53 L132.33 150.19 L132.55 148.86 L132.77 147.56 L132.99 146.27 L133.20 145.01 L133.42 143.76 L133.64 142.53 L133.86 141.33 L134.08 140.14 L134.29 138.97 L134.51 137.81 L134.73 136.68 L134.95 135.56 L135.17 134.46 L135.39 133.38 L135.60 132.31 L135.82 131.26 L136.04 130.23 L136.26 129.21 L136.48 128.21 L136.69 127.22 L136.91 126.25 L137.13 125.29 L137.35 124.35 L137.57 123.43 L137.78 122.51 L138.00 121.62 L138.22 120.73 L138.44 119.86 L138.66 119.01 L138.87 118.17 L139.09 117.34 L139.31 116.52 L139.53 115.72 L139.75 114.93 L139.96 114.15 L140.18 113.38 L140.40 112.63 L140.62 111.89 L140.84 111.16 L141.05 110.44 L141.27 109.73 L141.49 109.04 L141.71 108.35 L141.93 107.68 L142.14 107.02 L142.36 106.37 L142.58 105.73 L142.80 105.09 L143.02 104.47 L143.23 103.86 L143.45 103.26 L143.67 102.67 L144.00 101.81 L144.33 100.96 L144.65 100.13 L144.98 99.33 L145.31 98.54 L145.63 97.78 L145.96 97.03 L146.29 96.30 L146.61 95.59 L146.94 94.90 L147.27 94.23 L147.60 93.57 L147.92 92.93 L148.25 92.31 L148.58 91.70 L148.90 91.11 L149.23 90.54 L149.56 89.98 L149.89 89.43 L150.21 88.90 L150.54 88.38 L150.87 87.88 L151.19 87.39 L151.52 86.92 L151.96 86.31 L152.39 85.72 L152.83 85.15 L153.26 84.60 L153.70 84.08 L154.14 83.57 L154.57 83.09 L155.01 82.62 L155.45 82.17 L155.88 81.75 L156.32 81.34 L156.75 80.94 L157.19 80.57 L157.73 80.12 L158.28 79.70 L158.83 79.30 L159.37 78.93 L159.92 78.57 L160.46 78.24 L161.01 77.93 L161.55 77.64 L162.10 77.37 L162.75 77.08 L163.40 76.80 L164.06 76.56 L164.71 76.33 L165.37 76.14 L166.02 75.96 L166.67 75.80 L167.44 75.65 L168.20 75.52 L168.96 75.42 L169.73 75.34 L170.49 75.29 L171.36 75.25 L172.23 75.24 L173.11 75.26 L173.98 75.31 L174.74 75.36 L175.51 75.44 L176.27 75.53 L177.03 75.64 L177.79 75.76 L178.56 75.89 L179.32 76.04 L180.08 76.20 L180.74 76.35 L181.39 76.51 L182.05 76.67 L182.70 76.85 L183.36 77.03 L184.01 77.22 L184.66 77.41 L185.32 77.61 L185.97 77.82 L186.63 78.04 L187.28 78.26 L187.93 78.48 L188.59 78.71 L189.24 78.95 L189.90 79.19 L190.55 79.44 L191.20 79.69 L191.86 79.94 L192.51 80.20 L193.17 80.46 L193.82 80.73 L194.48 81.00 L195.13 81.27 L195.78 81.55 L196.44 81.83 L197.09 82.11 L197.75 82.40 L198.40 82.68 L199.05 82.97 L199.71 83.27 L200.36 83.56 L201.02 83.86 L201.67 84.16 L202.33 84.46 L202.98 84.76 L203.63 85.06 L204.29 85.37 L204.83 85.62 L205.38 85.88 L205.92 86.14 L206.47 86.39 L207.01 86.65 L207.56 86.91 L208.10 87.17 L208.65 87.43 L209.19 87.70 L209.74 87.96 L210.28 88.22 L210.83 88.48 L211.37 88.75 L211.92 89.01 L212.46 89.27 L213.01 89.54 L213.55 89.80 L214.10 90.07 L214.64 90.33 L215.19 90.60 L215.73 90.86 L216.28 91.13 L216.82 91.40 L217.37 91.66 L217.92 91.93 L218.46 92.19 L219.01 92.46 L219.55 92.72 L220.10 92.99 L220.64 93.26 L221.19 93.52 L221.73 93.79 L222.28 94.05 L222.82 94.32 L223.37 94.58 L223.91 94.85 L224.46 95.11 L225.00 95.37 L225.55 95.64 L226.09 95.90 L226.64 96.16 L227.18 96.43 L227.73 96.69 L228.27 96.95 L228.82 97.21 L229.36 97.47 L229.91 97.74 L230.45 98.00 L231.00 98.26 L231.54 98.52 L232.09 98.77 L232.63 99.03 L233.18 99.29 L233.72 99.55 L234.27 99.81 L234.81 100.06 L235.36 100.32 L235.90 100.57 L236.45 100.83 L237.10 101.14 L237.76 101.44 L238.41 101.74 L239.07 102.05 L239.72 102.35 L240.37 102.65 L241.03 102.95 L241.68 103.25 L242.34 103.55 L242.99 103.85 L243.64 104.15 L244.30 104.44 L244.95 104.74 L245.61 105.03 L246.26 105.32 L246.92 105.62 L247.57 105.91 L248.22 106.20 L248.88 106.49 L249.53 106.78 L250.19 107.07 L250.84 107.35 L251.49 107.64 L252.15 107.92 L252.80 108.21 L253.46 108.49 L254.11 108.77 L254.76 109.05 L255.42 109.33 L256.07 109.61 L256.73 109.89 L257.38 110.17 L258.04 110.44 L258.69 110.72 L259.34 110.99 L260.00 111.26 L260.65 111.53 L261.31 111.81 L261.96 112.08 L262.61 112.34 L263.27 112.61 L263.92 112.88 L264.58 113.15 L265.23 113.41 L265.89 113.67 L266.54 113.94 L267.19 114.20 L267.85 114.46 L268.50 114.72 L269.16 114.98 L269.81 115.24 L270.46 115.49 L271.12 115.75 L271.77 116.00 L272.43 116.26 L273.08 116.51 L273.73 116.76 L274.39 117.01 L275.04 117.26 L275.70 117.51 L276.35 117.76 L277.01 118.01 L277.66 118.25 L278.31 118.50 L278.97 118.74 L279.62 118.98 L280.28 119.23 L280.93 119.47 L281.58 119.71 L282.24 119.95 L282.89 120.18 L283.55 120.42 L284.20 120.66 L284.85 120.89 L285.51 121.13 L286.16 121.36 L286.82 121.59 L287.47 121.83 L288.13 122.06 L288.78 122.29 L289.43 122.51 L290.09 122.74 L290.74 122.97 L291.40 123.20 L292.05 123.42 L292.70 123.64 L293.36 123.87 L294.01 124.09 L294.67 124.31 L295.32 124.53 L295.98 124.75 L296.63 124.97 L297.28 125.19 L297.94 125.41 L298.59 125.62 L299.25 125.84 L299.90 126.05 L300.55 126.27 L301.21 126.48 L301.86 126.69 L302.52 126.90 L303.17 127.11 L303.82 127.32 L304.48 127.53 L305.13 127.74 L305.79 127.94 L306.44 128.15 L307.10 128.35 L307.75 128.56 L308.40 128.76 L309.06 128.96 L309.71 129.17 L310.37 129.37 L311.02 129.57 L311.67 129.77 L312.33 129.96 L312.98 130.16 L313.64 130.36 L314.29 130.56 L314.95 130.75 L315.60 130.95 L316.25 131.14 L316.91 131.33 L317.56 131.52 L318.22 131.72 L318.87 131.91 L319.52 132.10 L320.18 132.29 L320.83 132.47 L321.49 132.66 L322.14 132.85 L322.79 133.03 L323.45 133.22 L324.10 133.41 L324.76 133.59 L325.41 133.77 L326.07 133.95 L326.72 134.14 L327.37 134.32 L328.03 134.50 L328.68 134.68 L329.34 134.86 L329.99 135.04 L330.64 135.21 L331.30 135.39 L331.95 135.57 L332.61 135.74 L333.26 135.92 L333.92 136.09 L334.57 136.26 L335.22 136.44 L335.88 136.61 L336.53 136.78 L337.19 136.95 L337.84 137.12 L338.49 137.29 L339.15 137.46 L339.80 137.63 L340.46 137.79 L341.11 137.96 L341.76 138.13 L342.42 138.29 L343.07 138.46 L343.73 138.62 L344.38 138.78 L345.04 138.95 L345.69 139.11 L346.34 139.27 L347.00 139.43 L347.65 139.59 L348.31 139.75 L348.96 139.91 L349.61 140.07 L350.27 140.23 L350.92 140.39 L351.58 140.54 L352.23 140.70 L352.89 140.85 L353.54 141.01 L354.19 141.16 L354.85 141.32 L355.50 141.47 L356.16 141.62 L356.81 141.78 L357.46 141.93 L358.12 142.08 L358.77 142.23 L359.43 142.38 L360.08 142.53 L360.73 142.68 L361.39 142.83 L362.04 142.97 L362.70 143.12 L363.35 143.27 L364.01 143.41 L364.77 143.58 L365.53 143.75 L366.29 143.92 L367.06 144.09 L367.82 144.25 L368.58 144.42 L369.35 144.58 L370.11 144.75 L370.87 144.91 L371.64 145.08 L372.40 145.24 L373.16 145.40 L373.93 145.56 L374.69 145.72 L375.45 145.88 L376.22 146.04 L376.98 146.20 L377.74 146.36 L378.51 146.51 L379.27 146.67 L380.03 146.83 L380.79 146.98 L381.56 147.14 L382.32 147.29 L383.08 147.44 L383.85 147.59 L384.61 147.75 L385.37 147.90 L386.14 148.05 L386.90 148.20 L387.66 148.35 L388.43 148.50 L389.19 148.64 L389.95 148.79 L390.72 148.94 L391.48 149.09 L392.24 149.23 L393.01 149.38 L393.77 149.52 L394.53 149.66 L395.29 149.81 L396.06 149.95 L396.82 150.09 L397.58 150.23 L398.35 150.38 L399.11 150.52 L399.87 150.66 L400.64 150.80 L401.40 150.93 L401.40 150.93" stroke="#000" stroke-width="2.6" stroke-dasharray="7.36 1.85" stroke-dashoffset="0.7"/>
</g>
<g class="tk"><text x="68.90" y="237.4" text-anchor="middle">0.0</text><text x="124.32" y="237.4" text-anchor="middle">0.5</text><text x="179.73" y="237.4" text-anchor="middle">1.0</text><text x="235.15" y="237.4" text-anchor="middle">1.5</text><text x="290.57" y="237.4" text-anchor="middle">2.0</text><text x="345.98" y="237.4" text-anchor="middle">2.5</text><text x="401.40" y="237.4" text-anchor="middle">3.0</text><text x="65.4" y="223.00" text-anchor="end">0.00</text><text x="65.4" y="171.80" text-anchor="end">0.02</text><text x="65.4" y="120.60" text-anchor="end">0.04</text><text x="65.4" y="69.40" text-anchor="end">0.06</text><text x="65.4" y="18.20" text-anchor="end">0.08</text></g>
<path d="M248.3 24.6 H270.8" stroke="#ff0000" stroke-width="2.5" fill="none"/><text class="rb" font-size="10.4" transform="translate(277.54 27.90) scale(1.000 1)">(</text><text class="ri" font-size="13" transform="translate(280.97 28.60) scale(1.000 1)">ω</text><text class="sb" font-size="12" transform="translate(289.65 28.60) scale(1.170 1)">,</text><text class="sb" font-size="12.5" transform="translate(296.79 28.60) scale(0.970 1)">K</text><text class="rb" font-size="10.4" transform="translate(306.76 27.90) scale(1.000 1)">)</text><text class="sb" font-size="12" transform="translate(314.40 29.10) scale(1.200 1)">=</text><text class="rb" font-size="10.4" transform="translate(326.34 27.90) scale(1.000 1)">(</text><text class="sb" font-size="12" transform="translate(329.81 28.60) scale(1.170 1)">2</text><text class="sr" font-size="13.7" transform="translate(337.70 30.40) scale(1.300 1)">/</text><text class="sb" font-size="12" transform="translate(342.68 28.60) scale(1.170 1)">3</text><text class="sb" font-size="12" transform="translate(349.85 28.60) scale(1.170 1)">,</text><text class="sb" font-size="12" transform="translate(357.52 28.60) scale(1.170 1)">−</text><text class="sb" font-size="12" transform="translate(365.54 28.60) scale(1.170 1)">0</text><text class="sb" font-size="12" transform="translate(372.85 28.60) scale(1.170 1)">.</text><path d="M381.62 28.60 L379.83 28.60 L379.83 22.36 L378.66 23.26 L377.30 23.82 L377.30 22.32 L378.98 21.40 L380.16 20.20 L381.62 20.20Z" fill="#000" stroke="#000" stroke-width="0.12"/><text class="rb" font-size="10.4" transform="translate(383.86 27.90) scale(1.000 1)">)</text><path d="M248.3 45.2 H270.8" stroke="#ff8000" stroke-width="2.5" fill="none"/><text class="rb" font-size="10.4" transform="translate(277.54 49.00) scale(1.000 1)">(</text><text class="ri" font-size="13" transform="translate(280.97 49.70) scale(1.000 1)">ω</text><text class="sb" font-size="12" transform="translate(289.65 49.70) scale(1.170 1)">,</text><text class="sb" font-size="12.5" transform="translate(296.79 49.70) scale(0.970 1)">K</text><text class="rb" font-size="10.4" transform="translate(306.76 49.00) scale(1.000 1)">)</text><text class="sb" font-size="12" transform="translate(314.40 50.20) scale(1.200 1)">=</text><text class="rb" font-size="10.4" transform="translate(326.34 49.00) scale(1.000 1)">(</text><text class="sb" font-size="12" transform="translate(329.81 49.70) scale(1.170 1)">2</text><text class="sr" font-size="13.7" transform="translate(337.70 51.50) scale(1.300 1)">/</text><text class="sb" font-size="12" transform="translate(342.68 49.70) scale(1.170 1)">3</text><text class="sb" font-size="12" transform="translate(349.85 49.70) scale(1.170 1)">,</text><text class="sb" font-size="12" transform="translate(357.52 49.70) scale(1.170 1)">−</text><text class="sb" font-size="12" transform="translate(365.54 49.70) scale(1.170 1)">0</text><text class="sb" font-size="12" transform="translate(372.85 49.70) scale(1.170 1)">.</text><text class="sb" font-size="12" transform="translate(375.91 49.70) scale(1.170 1)">2</text><text class="rb" font-size="10.4" transform="translate(383.86 49.00) scale(1.000 1)">)</text><path d="M248.3 65.8 H270.8" stroke="#00ff00" stroke-width="2.5" fill="none"/><text class="rb" font-size="10.4" transform="translate(277.54 69.45) scale(1.000 1)">(</text><text class="ri" font-size="13" transform="translate(280.97 70.15) scale(1.000 1)">ω</text><text class="sb" font-size="12" transform="translate(289.65 70.15) scale(1.170 1)">,</text><text class="sb" font-size="12.5" transform="translate(296.79 70.15) scale(0.970 1)">K</text><text class="rb" font-size="10.4" transform="translate(306.76 69.45) scale(1.000 1)">)</text><text class="sb" font-size="12" transform="translate(314.40 70.65) scale(1.200 1)">=</text><text class="rb" font-size="10.4" transform="translate(326.34 69.45) scale(1.000 1)">(</text><text class="sb" font-size="12" transform="translate(329.98 70.15) scale(1.170 1)">3</text><text class="sr" font-size="13.7" transform="translate(337.70 71.95) scale(1.300 1)">/</text><text class="sb" font-size="12" transform="translate(342.51 70.15) scale(1.170 1)">2</text><text class="sb" font-size="12" transform="translate(349.85 70.15) scale(1.170 1)">,</text><text class="sb" font-size="12" transform="translate(357.52 70.15) scale(1.170 1)">−</text><path d="M370.12 70.15 L368.33 70.15 L368.33 63.91 L367.16 64.81 L365.80 65.37 L365.80 63.87 L367.48 62.95 L368.66 61.75 L370.12 61.75Z" fill="#000" stroke="#000" stroke-width="0.12"/><text class="sb" font-size="12" transform="translate(372.85 70.15) scale(1.170 1)">.</text><text class="sb" font-size="12" transform="translate(375.91 70.15) scale(1.170 1)">2</text><text class="rb" font-size="10.4" transform="translate(383.86 69.45) scale(1.000 1)">)</text><path d="M248.3 86.4 H270.8" stroke="#0000ff" stroke-width="2.5" fill="none"/><text class="rb" font-size="10.4" transform="translate(277.54 90.20) scale(1.000 1)">(</text><text class="ri" font-size="13" transform="translate(280.97 90.90) scale(1.000 1)">ω</text><text class="sb" font-size="12" transform="translate(289.65 90.90) scale(1.170 1)">,</text><text class="sb" font-size="12.5" transform="translate(296.79 90.90) scale(0.970 1)">K</text><text class="rb" font-size="10.4" transform="translate(306.76 90.20) scale(1.000 1)">)</text><text class="sb" font-size="12" transform="translate(314.40 91.40) scale(1.200 1)">=</text><text class="rb" font-size="10.4" transform="translate(326.34 90.20) scale(1.000 1)">(</text><text class="sb" font-size="12" transform="translate(329.98 90.90) scale(1.170 1)">3</text><text class="sr" font-size="13.7" transform="translate(337.70 92.70) scale(1.300 1)">/</text><text class="sb" font-size="12" transform="translate(342.51 90.90) scale(1.170 1)">2</text><text class="sb" font-size="12" transform="translate(349.85 90.90) scale(1.170 1)">,</text><text class="sb" font-size="12" transform="translate(357.52 90.90) scale(1.170 1)">−</text><text class="sb" font-size="12" transform="translate(365.54 90.90) scale(1.170 1)">0</text><text class="sb" font-size="12" transform="translate(372.85 90.90) scale(1.170 1)">.</text><text class="sb" font-size="12" transform="translate(375.91 90.90) scale(1.170 1)">2</text><text class="rb" font-size="10.4" transform="translate(383.86 90.20) scale(1.000 1)">)</text>
<path d="M248.5 165.2 H292.5" stroke="#808080" stroke-width="2.5" stroke-dasharray="7.34 1.84" fill="none"/>
<path d="M248.3 185.6 H292.4" stroke="#000" stroke-width="2.6" stroke-dasharray="7.34 1.84" fill="none"/>
<g class="sb" font-size="12.5"><text x="300.3" y="169.8">Kerr</text><text x="300.3" y="190.0">Kerr</text><text x="335.4" y="190.0">Newman</text></g><path d="M327.2 186.9H334.1" stroke="#000" stroke-width="1" fill="none"/>
<text class="ax" transform="translate(0.1 120.6) scale(1.1 1)" font-size="19.6">T</text><text class="ax" x="11.3" y="123.7" font-size="14.5">H</text>
<text class="ax" transform="translate(225.3 267.0) scale(1.25 1)" font-size="18.4">r</text><text class="ax" x="232.8" y="271.5" font-size="14.5">H</text>
</svg>
</body></html>
